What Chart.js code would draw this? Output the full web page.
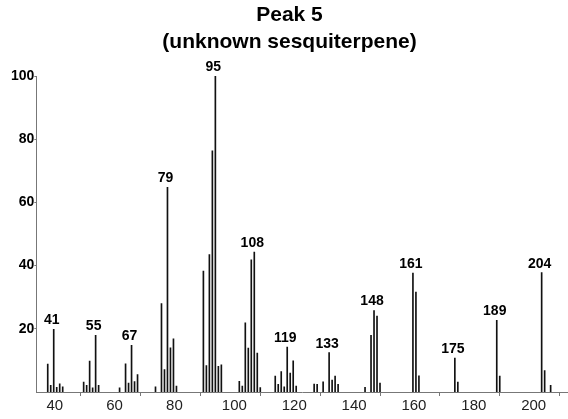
<!DOCTYPE html>
<html><head><meta charset="utf-8">
<script src="https://cdn.jsdelivr.net/npm/chart.js@4/dist/chart.umd.min.js"></script>
<style>html,body{margin:0;padding:0;background:#fff}#wrap{width:568px;height:419px}</style>
</head><body><div id="wrap"><canvas id="c" width="568" height="419"></canvas></div>
<script>
const mz = [39,40,41,42,43,44, 51,52,53,54,55,56, 63,65,66,67,68,69, 75,77,78,79,80,81,82,
  91,92,93,94,95,96,97, 103,104,105,106,107,108,109,110, 115,116,117,118,119,120,121,122,
  128,129,131,133,134,135,136, 145,147,148,149,150, 161,162,163, 175,176, 189,190, 204,205,207];
const intensity = [8.8,2.1,19.8,1.5,2.6,1.6, 3.1,2.1,9.8,1.3,17.9,2.1, 1.3,8.9,2.8,14.8,3.3,5.5, 1.6,28,7.1,64.8,14,16.8,1.9,
  38.3,8.4,43.5,76.3,100,8.1,8.6, 3.4,1.9,21.9,13.9,41.8,44.3,12.3,1.4, 5,2.4,6.5,1.6,14.2,6,9.9,1.9,
  2.5,2.4,3.2,12.5,3.8,5,2.4, 1.5,17.9,25.8,24,2.8, 37.6,31.6,5.1, 10.7,3.1, 22.7,5, 37.8,6.8,2.1];
const labelledPeaks = [41,55,67,79,95,108,119,133,148,161,175,189,204];
const xTickValues = [40,50,60,70,80,90,100,110,120,130,140,150,160,170,180,190,200,210];
const yTickValues = [20,40,60,80,100];
const titleLines = ['Peak 5','(unknown sesquiterpene)'];

const FAMILY = '"Liberation Sans", Arial, sans-serif';

const peakLabelPlugin = {
  id: 'peakLabels',
  afterDatasetsDraw(chart) {
    const {ctx, scales: {x, y}} = chart;
    ctx.save();
    ctx.font = 'bold 14px ' + FAMILY;
    ctx.fillStyle = '#000';
    ctx.textAlign = 'center';
    ctx.textBaseline = 'alphabetic';
    labelledPeaks.forEach(p => {
      const i = mz.indexOf(p);
      ctx.fillText(String(p), x.getPixelForValue(p) - 2, y.getPixelForValue(intensity[i]) - 5);
    });
    ctx.restore();
  }
};

new Chart(document.getElementById('c'), {
  type: 'bar',
  data: {
    datasets: [{
      data: mz.map((m, i) => ({x: m, y: intensity[i]})),
      backgroundColor: '#111',
      borderWidth: 0,
      barThickness: 1
    }]
  },
  options: {
    responsive: false,
    animation: false,
    devicePixelRatio: 1,
    layout: {padding: {left: 11, right: 0, top: 0, bottom: 3}},
    plugins: {
      legend: {display: false},
      tooltip: {enabled: false},
      title: {
        display: true,
        text: titleLines,
        color: '#000',
        font: {family: FAMILY, size: 21, weight: 'bold', lineHeight: 27/21},
        padding: {top: 2, bottom: 20}
      }
    },
    scales: {
      x: {
        type: 'linear',
        offset: false,
        min: 35.2,
        max: 212.8,
        afterBuildTicks: s => { s.ticks = xTickValues.map(v => ({value: v})); },
        ticks: {
          autoSkip: false, maxRotation: 0, padding: 1, labelOffset: 4,
          color: '#222',
          font: {family: FAMILY, size: 15},
          callback: v => (v % 20 === 0 ? String(v) : '')
        },
        grid: {
          drawOnChartArea: false, tickLength: 4, offset: false,
          tickColor: c => (c.tick && c.tick.value % 20 === 10 ? '#777' : 'rgba(0,0,0,0)')
        },
        border: {color: '#777', width: 1}
      },
      y: {
        min: 0,
        max: 100,
        afterBuildTicks: s => { s.ticks = yTickValues.map(v => ({value: v})); },
        ticks: {
          padding: 0, color: '#000',
          font: {family: FAMILY, size: 14, weight: 'bold'}
        },
        grid: {drawOnChartArea: false, tickLength: 2, tickColor: '#777'},
        border: {color: '#777', width: 1}
      }
    }
  },
  plugins: [peakLabelPlugin]
});
</script>
</body></html>
